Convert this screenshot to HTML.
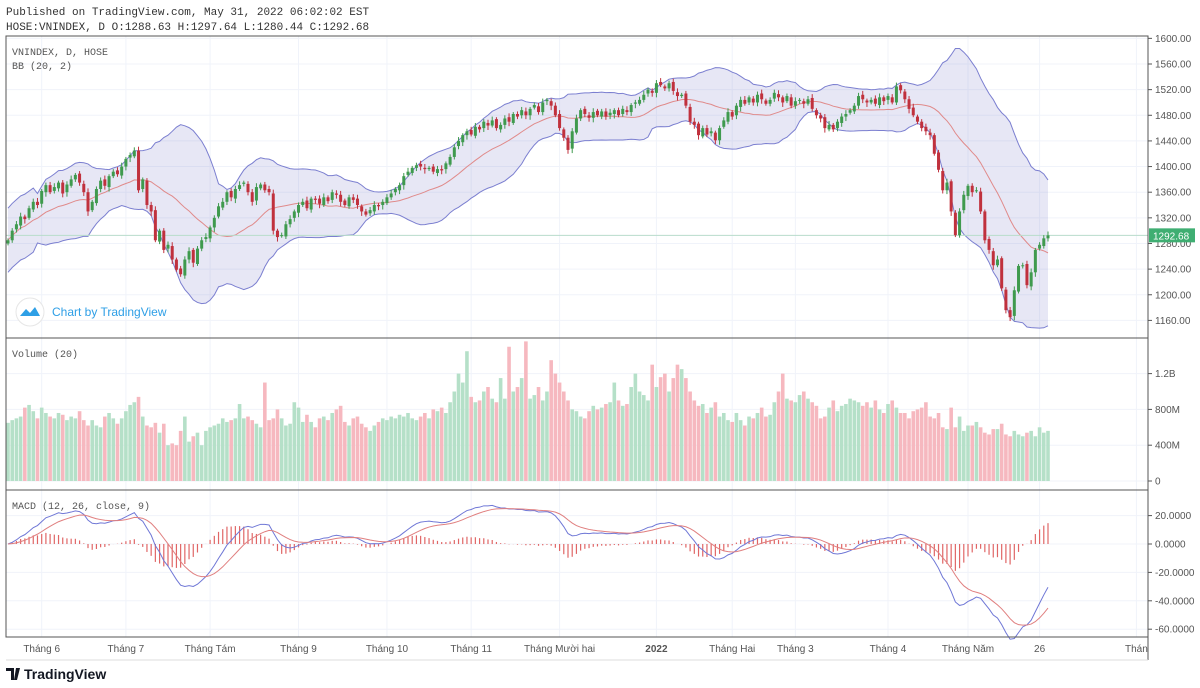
<!DOCTYPE html>
<html><head><meta charset="utf-8"><style>
body{margin:0;background:#fff;width:1200px;height:688px;overflow:hidden;font-family:"Liberation Sans",sans-serif}
svg{display:block}
.mono{font-family:"Liberation Mono","DejaVu Sans Mono",monospace}
</style></head><body>
<svg id="c" width="1200" height="688" xmlns="http://www.w3.org/2000/svg">
<text x="6" y="15" class="mono" font-size="11" fill="#333">Published on TradingView.com, May 31, 2022 06:02:02 EST</text>
<text x="6" y="30" class="mono" font-size="11" fill="#333">HOSE:VNINDEX, D O:1288.63 H:1297.64 L:1280.44 C:1292.68</text>
<g id="grid"></g>
<g id="bb"></g>
<g id="candles"></g>
<g id="vol"></g>
<g id="macd"></g>
<rect x="6" y="36" width="1142" height="601" fill="none" stroke="#555" stroke-width="1"/>
<line x1="6" y1="338" x2="1148" y2="338" stroke="#555"/>
<line x1="6" y1="490" x2="1148" y2="490" stroke="#555"/>
<line x1="1148" y1="36" x2="1148" y2="660" stroke="#555"/>
<line x1="6" y1="660" x2="1148" y2="660" stroke="#ddd"/>
<g id="axes"></g>
<text x="12" y="55" class="mono" font-size="10" fill="#555">VNINDEX, D, HOSE</text>
<text x="12" y="69" class="mono" font-size="10" fill="#555">BB (20, 2)</text>
<text x="12" y="357" class="mono" font-size="10" fill="#555">Volume (20)</text>
<text x="12" y="509" class="mono" font-size="10" fill="#555">MACD (12, 26, close, 9)</text>
<g>
<circle cx="30" cy="312" r="14" fill="#fff" stroke="#e6e6e6"/>
<path d="M20 316 L26 309 L30 313 L35 307 L40 316 Z" fill="#2e9fe6"/>
<text x="52" y="316" font-size="12" fill="#2e9fe6">Chart by TradingView</text>
</g>
<g>
<path d="M6 668 h8 v12 h-3 v-9 h-5z M16 668 h4 l-3 12 h-3z" fill="#131722"/>
<text x="24" y="679" font-size="14" font-weight="bold" fill="#131722">TradingView</text>
</g>
</svg>
<script>
const closes=[1285,1300,1310,1322,1318,1335,1345,1340,1362,1371,
1360,1368,1375,1358,1372,1380,1387,
1375,1360,1330,1345,1365,1378,1370,1385,1392,1388,1400,1412,1418,
1425,1363,1380,1340,1330,1285,
1300,1270,1278,1255,1239,
1232,1255,1268,1250,1272,1285,
1290,1305,1320,1338,1345,1360,1352,1365,1371,
1375,1360,1345,1368,1372,1363,
1360,1300,1290,1293,
1310,1318,1330,1340,
1345,1335,1350,1348,1342,1352,1346,1360,1356,
1345,1340,1352,1348,1340,1330,1325,1332,
1340,1338,1345,1352,1358,1365,1371,
1385,1392,1398,1402,
1400,1396,1398,1392,1396,1394,
1405,1415,1430,1440,1449,
1455,1450,1462,1458,1470,1464,1472,1460,1465,
1475,1470,1482,1478,1488,1480,
1490,1496,1485,1500,1504,
1495,1480,1460,1445,1426,
1455,1475,1488,
1482,1476,1485,1480,1486,1478,1484,1488,1480,
1490,1485,1496,1500,1504,
1512,1520,1515,1530,1527,
1522,1530,1518,1510,1512,
1495,1470,1465,1449,
1460,1450,1455,1441,
1460,1472,1485,1478,1495,1504,
1498,1508,1500,1512,1505,1498,1504,
1515,1508,1500,1510,1495,1502,1504,
1498,1505,1490,1480,1475,1460,1465,
1458,1470,1478,1482,1488,
1495,1510,1505,1500,1504,
1498,1508,1502,1510,1500,1525,1519,
1505,1490,1480,
1470,1460,1455,1449,
1420,1395,1363,
1375,1330,1293,
1330,1356,
1370,1360,1363,
1330,1285,
1270,1246,
1255,1210,1176,
1165,1207,
1245,1246,
1215,1235,1270,
1278,1288,1292.68];
const volumes=[650,680,700,720,820,850,780,700,820,760,
720,700,760,740,680,720,700,780,680,620,
680,620,600,720,760,700,640,700,780,850,
880,940,720,620,600,650,540,640,400,420,
400,560,720,440,500,540,400,560,600,620,
640,700,660,680,700,860,700,720,680,640,
600,1100,680,700,800,700,620,640,880,820,
660,740,660,600,700,720,680,760,800,840,
660,620,700,720,640,600,560,620,660,700,
680,720,700,740,720,760,700,680,720,760,
700,800,780,820,760,880,1000,1200,1100,1450,
940,880,900,1000,1050,920,880,1150,920,1500,
1000,1050,1150,1560,920,960,1050,900,1000,1350,
1200,1100,1000,900,800,780,720,700,780,840,
800,820,860,880,1100,900,840,860,1050,1200,
1000,960,900,1300,1050,1160,1200,1000,1150,1300,
1250,1150,1000,900,840,860,760,820,880,720,
760,680,660,760,680,620,720,700,760,820,
720,740,880,1000,1200,920,900,880,960,1000,
920,880,840,700,720,820,900,780,840,860,
920,900,880,840,880,820,900,800,760,860,
900,820,760,760,700,780,800,820,880,720,
700,760,600,580,820,600,720,560,620,620,
660,600,540,520,580,580,640,520,500,560,
520,500,540,560,500,600,540,560];
const priceTicks=[1160,1200,1240,1280,1320,1360,1400,1440,1480,1520,1560,1600];
const volTicks=[0,400,800,1200];
const volTickLabels=["0","400M","800M","1.2B"];
const macdTicks=[20,0,-20,-40,-60];
const monthLabels=["Tháng 6","Tháng 7","Tháng Tám","Tháng 9","Tháng 10","Tháng 11","Tháng Mười hai","2022","Tháng Hai","Tháng 3","Tháng 4","Tháng Năm","26","Thán"];
const monthIdx=[8,28,48,69,90,110,131,154,172,187,209,228,245,268];

const NS="http://www.w3.org/2000/svg";
const N=closes.length, x0=8, x1=1048, step=(x1-x0)/(N-1);
const xAt=i=>x0+i*step;
const yP=p=>64+(1560-p)*0.641;
const yV=v=>481-v*0.0895;
const yM=m=>544-m*1.42;
function mk(tag,attrs,parent){const e=document.createElementNS(NS,tag);for(const k in attrs)e.setAttribute(k,attrs[k]);parent.appendChild(e);return e;}
const G=id=>document.getElementById(id);

// grid
const grid=G('grid');
monthIdx.forEach(i=>{const l=mk('line',{x1:xAt(i),x2:xAt(i),y1:36,y2:637,stroke:'#f0f3fa'},grid);

});
priceTicks.forEach(p=>{const l=mk('line',{x1:6,x2:1148,y1:yP(p),y2:yP(p),stroke:'#f0f3fa'},grid);

});
volTicks.forEach(v=>mk('line',{x1:6,x2:1148,y1:yV(v),y2:yV(v),stroke:'#f0f3fa'},grid));
macdTicks.forEach(v=>mk('line',{x1:6,x2:1148,y1:yM(v),y2:yM(v),stroke:'#f0f3fa'},grid));

// BB
const mid=[],up=[],lo=[];
for(let i=0;i<N;i++){const s=closes.slice(Math.max(0,i-19),i+1);const m=s.reduce((a,b)=>a+b,0)/s.length;
let sd=Math.sqrt(s.reduce((a,b)=>a+(b-m)*(b-m),0)/s.length);if(s.length<8)sd=Math.max(sd,25);
mid.push(m);up.push(m+2*sd);lo.push(m-2*sd);}
const bb=G('bb');
let poly=up.map((v,i)=>xAt(i)+','+yP(v)).join(' ')+' '+lo.map((v,i)=>xAt(i)+','+yP(v)).reverse().join(' ');
const fill=mk('polygon',{points:poly,fill:'rgba(120,123,200,0.18)'},bb);


[[up,'#7b7fd0','bb-upper'],[lo,'#7b7fd0','bb-lower'],[mid,'#e08a8a','bb-basis']].forEach(([a,c,n])=>{
const l=mk('polyline',{points:a.map((v,i)=>xAt(i)+','+yP(v)).join(' '),fill:'none',stroke:c,'stroke-width':1},bb);

});
const last=mk('line',{x1:6,x2:1148,y1:yP(closes[N-1]),y2:yP(closes[N-1]),stroke:'#b8dccb','stroke-width':1},bb);



// candles
const cg=G('candles');
for(let i=0;i<N;i++){const c=closes[i],o=i?closes[i-1]+(i%3-1)*2:c-5;const upc=c>=o;const col=upc?'#3f9a4e':'#c0313d';
const hi=Math.max(o,c)+3+(i%4),lw=Math.min(o,c)-3-(i%5);
const g=mk('g',{},cg);


mk('line',{x1:xAt(i),x2:xAt(i),y1:yP(hi),y2:yP(lw),stroke:col,'stroke-width':1},g);
const top=yP(Math.max(o,c)),h=Math.max(1,yP(Math.min(o,c))-top);
mk('rect',{x:xAt(i)-1.5,y:top,width:3,height:h,fill:col},g);}

// volume
const vg=G('vol');
for(let i=0;i<N;i++){const upc=i?closes[i]>=closes[i-1]:true;
const r=mk('rect',{x:xAt(i)-1.8,y:yV(volumes[i]),width:3.6,height:481-yV(volumes[i]),fill:upc?'#b5e0c8':'#f6b8bf'},vg);

}

// MACD
function ema(a,n){const k=2/(n+1);const r=[a[0]];for(let i=1;i<a.length;i++)r.push(a[i]*k+r[i-1]*(1-k));return r;}
const e12=ema(closes,12),e26=ema(closes,26);const macd=e12.map((v,i)=>v-e26[i]);const sig=ema(macd,9);
const mg=G('macd');
for(let i=0;i<N;i++){const h=macd[i]-sig[i];
const b=mk('line',{x1:xAt(i),x2:xAt(i),y1:yM(0),y2:yM(h),stroke:'#e06666','stroke-width':1.2},mg);

}
[[macd,'#6f77d6','macd-line'],[sig,'#e07f7f','signal-line']].forEach(([a,c,n])=>{
const l=mk('polyline',{points:a.map((v,i)=>xAt(i)+','+yM(v)).join(' '),fill:'none',stroke:c,'stroke-width':1},mg);

});

// axes labels
const ax=G('axes');
function lab(x,y,t,name,anchor){const e=mk('text',{x:x,y:y,'font-size':10,fill:'#555','text-anchor':anchor||'start'},ax);e.textContent=t;

return e;}
priceTicks.forEach(p=>{mk('line',{x1:1148,x2:1152,y1:yP(p),y2:yP(p),stroke:'#555'},ax);lab(1155,yP(p)+3.5,p.toFixed(2),'price-tick-label');});
volTicks.forEach((v,i)=>{mk('line',{x1:1148,x2:1152,y1:yV(v),y2:yV(v),stroke:'#555'},ax);lab(1155,yV(v)+3.5,volTickLabels[i],'volume-tick-label');});
macdTicks.forEach(v=>{mk('line',{x1:1148,x2:1152,y1:yM(v),y2:yM(v),stroke:'#555'},ax);lab(1155,yM(v)+3.5,v.toFixed(4),'macd-tick-label');});
monthLabels.forEach((t,i)=>{const e=lab(xAt(monthIdx[i]),652,t,'time-axis-label','middle');if(t==='2022')e.setAttribute('font-weight','bold');});
const py=yP(closes[N-1]);
const pb=mk('rect',{x:1149,y:py-7,width:46,height:14,fill:'#3fae72'},ax);


const pt=mk('text',{x:1153,y:py+4,'font-size':10,fill:'#fff'},ax);pt.textContent=closes[N-1].toFixed(2);


</script>
</body></html>
